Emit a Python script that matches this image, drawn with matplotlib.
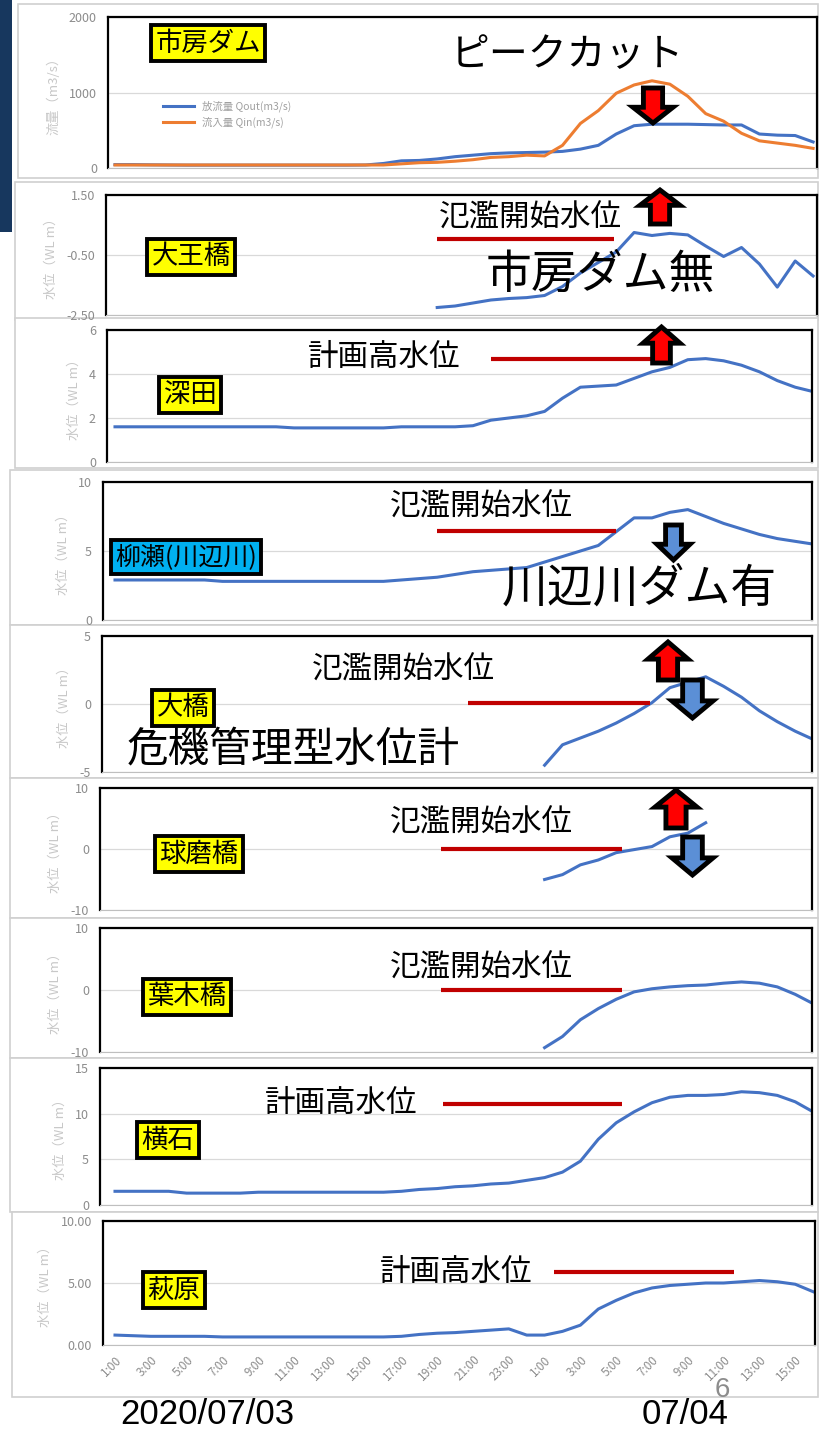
import numpy as np
import matplotlib
matplotlib.use('Agg')
import matplotlib.pyplot as plt
from matplotlib.patches import Polygon, Rectangle

plt.rcParams['font.family'] = ['Noto Sans CJK JP', 'DejaVu Sans']

W, H = 819, 1432
nan = np.nan

# hourly steps, 07/03 1:00 ... 07/04 16:00
hours = np.arange(40)
tick_labels = ['1:00', '3:00', '5:00', '7:00', '9:00', '11:00', '13:00', '15:00', '17:00',
               '19:00', '21:00', '23:00', '1:00', '3:00', '5:00', '7:00', '9:00', '11:00',
               '13:00', '15:00']

# 市房ダム (m3/s)
q_out = [45, 45, 42, 40, 38, 38, 38, 38, 38, 38, 38, 38, 38, 38, 40, 60, 95, 100, 120, 150,
         170, 190, 200, 205, 210, 220, 250, 300, 450, 560, 580, 580, 580, 575, 570, 570, 450, 435, 430, 345]
q_in = [40, 40, 40, 40, 40, 40, 40, 40, 40, 40, 40, 40, 40, 40, 40, 40, 55, 70, 75, 90,
        110, 140, 150, 170, 160, 300, 590, 760, 990, 1100, 1155, 1110, 950, 720, 620, 460, 360, 330, 300, 260]

# 水位 (WL m)
wl_oji = [nan] * 18 + [-2.25, -2.2, -2.1, -2.0, -1.95, -1.92, -1.85, -1.55, -1.1, -0.75, -0.4, 0.25,
                       0.15, 0.22, 0.17, -0.2, -0.55, -0.25, -0.8, -1.57, -0.7, -1.2]
wl_fukada = [1.6] * 10 + [1.55] * 6 + [1.6, 1.6, 1.6, 1.6, 1.65, 1.9, 2.0, 2.1, 2.3, 2.9, 3.4, 3.45,
                                         3.5, 3.8, 4.1, 4.3, 4.65, 4.7, 4.6, 4.4, 4.1, 3.7, 3.4, 3.2]
wl_yanase = [2.9] * 6 + [2.8] * 10 + [2.9, 3.0, 3.1, 3.3, 3.5, 3.6, 3.7, 3.8, 4.2, 4.6, 5.0, 5.4,
                                        6.4, 7.4, 7.4, 7.8, 8.0, 7.5, 7.0, 6.6, 6.2, 5.9, 5.7, 5.5]
wl_ohashi = [nan] * 24 + [-4.5, -3.0, -2.5, -2.0, -1.4, -0.7, 0.1, 1.2, 1.6, 2.0, 1.3, 0.5,
                          -0.5, -1.3, -2.0, -2.6]
wl_kumabashi = [nan] * 24 + [-5.0, -4.2, -2.6, -1.8, -0.6, -0.1, 0.4, 2.0, 2.6, 4.3] + [nan] * 6
wl_hagibashi = [nan] * 24 + [-9.3, -7.5, -4.8, -3.0, -1.5, -0.3, 0.2, 0.5, 0.7, 0.8, 1.1, 1.3,
                             1.1, 0.5, -0.7, -2.2]
wl_yokoishi = [1.5] * 4 + [1.3] * 4 + [1.4] * 8 + [1.5, 1.7, 1.8, 2.0, 2.1, 2.3, 2.4, 2.7, 3.0, 3.6,
                                                     4.8, 7.2, 9.0, 10.2, 11.2, 11.8, 12.0, 12.0, 12.1,
                                                     12.4, 12.3, 12.0, 11.3, 10.2]
wl_hagiwara = [0.8, 0.75, 0.7, 0.7, 0.7, 0.7] + [0.65] * 10 + [0.7, 0.85, 0.95, 1.0, 1.1, 1.2, 1.3, 0.8,
                                                              0.8, 1.1, 1.6, 2.9, 3.6, 4.2, 4.6, 4.8,
                                                              4.9, 5.0, 5.0, 5.1, 5.2, 5.1, 4.9, 4.3]

# threshold lines: (level, start hour, end hour)
thr_oji = (0.05, 18.0, 27.9)
thr_fukada = (4.7, 21.0, 30.0)
thr_yanase = (6.45, 18.0, 28.0)
thr_ohashi = (0.1, 19.7, 29.9)
thr_kumabashi = (0.0, 18.2, 28.3)
thr_hagibashi = (0.0, 18.2, 28.3)
thr_yokoishi = (11.1, 18.3, 28.3)
thr_hagiwara = (5.9, 24.5, 34.6)

BLUE = '#4472c4'
ORANGE = '#ed7d31'
RED = '#c00000'
GRID = '#d9d9d9'
TICK = '#8c8c8c'

fig = plt.figure(figsize=(W / 100, H / 100), dpi=100)


def fx(px):
    return px / W


def fy(py):
    return 1 - py / H


def frame(x0, y0, x1, y1):
    fig.patches.append(Rectangle((fx(x0), fy(y1)), fx(x1) - fx(x0), fy(y0) - fy(y1),
                                 transform=fig.transFigure, fc='white', ec='#d0d0d0', lw=1.2, zorder=-5))


def panel(box, ylim, yticks, fmt, ylabel):
    L, T, R, B = box
    ax = fig.add_axes([fx(L), fy(B), fx(R) - fx(L), fy(T) - fy(B)])
    ax.set_xlim((L - 115) / 17.9, (R - 115) / 17.9)
    ax.set_ylim(*ylim)
    ax.set_yticks(yticks)
    ax.set_yticklabels([fmt % v for v in yticks], color=TICK, fontsize=9)
    ax.tick_params(length=0, pad=8)
    ax.set_xticks([])
    ax.grid(axis='y', color=GRID, lw=0.9)
    ax.set_axisbelow(True)
    for s in ['left', 'top', 'right']:
        ax.spines[s].set_color('black')
        ax.spines[s].set_linewidth(1.6)
    ax.spines['bottom'].set_color('#bfbfbf')
    ax.patch.set_alpha(0)
    ax.set_ylabel(ylabel, color='#c8c8c8', fontsize=9.5, labelpad=6)
    return ax


def label(px, py, text, color='#ffff00', size=19):
    fig.text(fx(px), fy(py), text, fontsize=size, ha='center', va='center', color='black',
             zorder=8, bbox=dict(boxstyle='square,pad=0.16', fc=color, ec='black', lw=2.8))


def big(px, py, text, size):
    fig.text(fx(px), fy(py), text, fontsize=size, ha='center', va='center', color='black',
             zorder=8)


def arrow(x0, x1, y0, y1, up, color):
    cx = (x0 + x1) / 2
    sw = (x1 - x0) * 0.24
    hh = (y1 - y0) * 0.45
    if up:
        pts = [(cx, y0), (x1, y0 + hh), (cx + sw, y0 + hh), (cx + sw, y1),
               (cx - sw, y1), (cx - sw, y0 + hh), (x0, y0 + hh)]
    else:
        pts = [(cx, y1), (x1, y1 - hh), (cx + sw, y1 - hh), (cx + sw, y0),
               (cx - sw, y0), (cx - sw, y1 - hh), (x0, y1 - hh)]
    fig.patches.append(Polygon([(fx(a), fy(b)) for a, b in pts], closed=True,
                               transform=fig.transFigure, fc=color, ec='black', lw=3.5,
                               joinstyle='miter', zorder=10))


def thr(ax, t):
    ax.hlines(t[0], t[1], t[2], color=RED, lw=3)


# slide edge
fig.patches.append(Rectangle((0, fy(232)), fx(12), fy(0) - fy(232), transform=fig.transFigure,
                             fc='#17375e', ec='none', zorder=-4))

frame(18, 4, 818, 178)
frame(15, 182, 818, 320)
frame(15, 318, 818, 468)
frame(10, 470, 818, 625)
frame(10, 625, 818, 778)
frame(10, 778, 818, 918)
frame(10, 918, 818, 1058)
frame(10, 1058, 818, 1212)
frame(12, 1212, 818, 1397)

WL = '水位（WL m）'

# 1 市房ダム
ax1 = panel((108, 17, 817, 168), (0, 2000), [0, 1000, 2000], '%d', '流量（m3/s）')
ax1.plot(hours, q_out, color=BLUE, lw=2.2, label='放流量 Qout(m3/s)')
ax1.plot(hours, q_in, color=ORANGE, lw=2.2, label='流入量 Qin(m3/s)')
ax1.legend(loc='upper left', bbox_to_anchor=(0.07, 0.48), frameon=False, fontsize=7.5,
           labelcolor='#a0a0a0', handlelength=3, borderpad=0, labelspacing=0.4)
label(208, 43, '市房ダム')
big(567, 55, 'ピークカット', 28)
arrow(633, 673, 88, 123, False, '#ff0000')

# 2 大王橋
ax2 = panel((106, 195, 817, 315), (-2.5, 1.5), [-2.5, -0.5, 1.5], '%.2f', WL)
ax2.plot(hours, wl_oji, color=BLUE, lw=2.2)
thr(ax2, thr_oji)
label(191, 257, '大王橋')
big(530, 218, '氾濫開始水位', 22)
big(600, 275, '市房ダム無', 33)
arrow(640, 680, 190, 224, True, '#ff0000')

# 3 深田
ax3 = panel((107, 330, 812, 462), (0, 6), [0, 2, 4, 6], '%d', WL)
ax3.plot(hours, wl_fukada, color=BLUE, lw=2.2)
thr(ax3, thr_fukada)
label(190, 395, '深田')
big(384, 357, '計画高水位', 22)
arrow(643, 680, 327, 363, True, '#ff0000')

# 4 柳瀬(川辺川)
ax4 = panel((103, 482, 812, 620), (0, 10), [0, 5, 10], '%d', WL)
ax4.plot(hours, wl_yanase, color=BLUE, lw=2.2)
thr(ax4, thr_yanase)
label(186, 557, '柳瀬(川辺川)', color='#00b0f0', size=18)
big(481, 507, '氾濫開始水位', 22)
big(639, 588, '川辺川ダム有', 33)
arrow(657, 690, 525, 560, False, '#5b8fd6')

# 5 大橋
ax5 = panel((102, 636, 812, 772), (-5, 5), [-5, 0, 5], '%d', WL)
ax5.plot(hours, wl_ohashi, color=BLUE, lw=2.2)
thr(ax5, thr_ohashi)
label(183, 708, '大橋')
big(403, 670, '氾濫開始水位', 22)
big(293, 750, '危機管理型水位計', 30)
arrow(648, 688, 642, 680, True, '#ff0000')
arrow(672, 713, 680, 718, False, '#5b8fd6')

# 6 球磨橋
ax6 = panel((100, 788, 812, 910), (-10, 10), [-10, 0, 10], '%d', WL)
ax6.plot(hours, wl_kumabashi, color=BLUE, lw=2.2)
thr(ax6, thr_kumabashi)
label(199, 854, '球磨橋')
big(481, 823, '氾濫開始水位', 22)
arrow(655, 697, 790, 828, True, '#ff0000')
arrow(672, 713, 837, 875, False, '#5b8fd6')

# 7 葉木橋
ax7 = panel((100, 928, 812, 1052), (-10, 10), [-10, 0, 10], '%d', WL)
ax7.plot(hours, wl_hagibashi, color=BLUE, lw=2.2)
thr(ax7, thr_hagibashi)
label(187, 997, '葉木橋')
big(481, 968, '氾濫開始水位', 22)

# 8 横石
ax8 = panel((100, 1068, 812, 1205), (0, 15), [0, 5, 10, 15], '%d', WL)
ax8.plot(hours, wl_yokoishi, color=BLUE, lw=2.2)
thr(ax8, thr_yokoishi)
label(168, 1140, '横石')
big(341, 1103, '計画高水位', 22)

# 9 萩原
ax9 = panel((103, 1221, 815, 1345), (0, 10), [0, 5, 10], '%.2f', WL)
ax9.plot(hours, wl_hagiwara, color=BLUE, lw=2.2)
thr(ax9, thr_hagiwara)
label(174, 1290, '萩原')
big(456, 1272, '計画高水位', 22)
ax9.set_xticks(hours[::2])
ax9.set_xticklabels(tick_labels, rotation=45, ha='right', rotation_mode='anchor',
                    color=TICK, fontsize=8.5)
ax9.tick_params(axis='x', pad=6)

fig.text(fx(207), fy(1414), '2020/07/03', fontsize=25, ha='center', va='center',
         family=['Liberation Sans', 'DejaVu Sans'])
fig.text(fx(685), fy(1414), '07/04', fontsize=25, ha='center', va='center',
         family=['Liberation Sans', 'DejaVu Sans'])
fig.text(fx(722), fy(1390), '6', fontsize=20, ha='center', va='center', color='#8c8c8c',
         family=['Liberation Sans', 'DejaVu Sans'])

fig.savefig('out.png', dpi=100)
